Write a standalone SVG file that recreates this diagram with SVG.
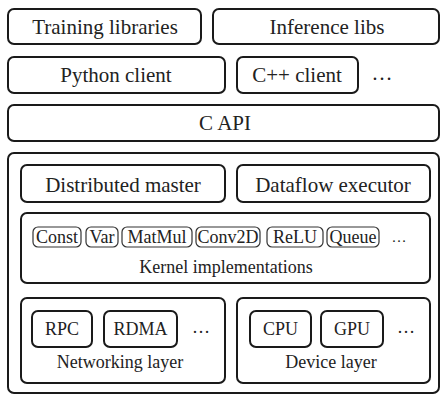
<svg xmlns="http://www.w3.org/2000/svg" width="441" height="395" viewBox="0 0 441 395">
<style>
.b{fill:#fff;stroke:#1a1a1a;stroke-width:2}
.k{fill:#fff;stroke:#333;stroke-width:1.2}
.t{fill:#222;text-anchor:middle}
.l{font-size:21px}
.m{font-size:18px}
</style>
<rect width="441" height="395" fill="#fff"/>
<g font-family="Liberation Serif">
<g id="training-libraries"><rect class="b" x="8" y="9" width="193" height="35" rx="6"/><text class="t l" x="105" y="34">Training libraries</text></g>
<g id="inference-libs"><rect class="b" x="213" y="9" width="226" height="35" rx="6"/><text class="t l" x="327" y="34">Inference libs</text></g>
<g id="python-client"><rect class="b" x="8" y="57" width="217" height="36" rx="6"/><text class="t l" x="116" y="82">Python client</text></g>
<g id="cpp-client"><rect class="b" x="237" y="57" width="121" height="36" rx="6"/><text class="t l" x="297" y="82">C++ client</text></g>
<g id="client-more"><text class="t l" x="382" y="80">…</text></g>
<g id="c-api"><rect class="b" x="8" y="105" width="431" height="36" rx="6"/><text class="t l" x="225" y="130">C API</text></g>
<g id="runtime"><rect class="b" x="8" y="153" width="431" height="240" rx="6"/></g>
<g id="distributed-master"><rect class="b" x="21" y="165" width="204" height="37" rx="6"/><text class="t l" x="123" y="192">Distributed master</text></g>
<g id="dataflow-executor"><rect class="b" x="237" y="165" width="193" height="37" rx="6"/><text class="t l" x="333" y="192">Dataflow executor</text></g>
<g id="kernel-implementations"><rect class="b" x="21" y="213" width="409" height="70" rx="6"/><text class="t m" x="226" y="273">Kernel implementations</text></g>
<g id="const"><rect class="k" x="33" y="227" width="48" height="20" rx="5"/><text class="t m" x="57" y="243">Const</text></g>
<g id="var"><rect class="k" x="86" y="227" width="32" height="20" rx="5"/><text class="t m" x="102" y="243">Var</text></g>
<g id="matmul"><rect class="k" x="122" y="227" width="70" height="20" rx="5"/><text class="t m" x="157" y="243">MatMul</text></g>
<g id="conv2d"><rect class="k" x="196" y="227" width="64" height="20" rx="5"/><text class="t m" x="228" y="243">Conv2D</text></g>
<g id="relu"><rect class="k" x="267" y="227" width="56" height="20" rx="5"/><text class="t m" x="295" y="243">ReLU</text></g>
<g id="queue"><rect class="k" x="327" y="227" width="52" height="20" rx="5"/><text class="t m" x="353" y="243">Queue</text></g>
<g id="kernel-more"><text class="t" font-size="15" x="399" y="242">…</text></g>
<g id="networking-layer"><rect class="b" x="21" y="298" width="204" height="85" rx="6"/><text class="t m" x="120" y="368">Networking layer</text></g>
<g id="rpc"><rect class="b" x="32" y="311" width="60" height="36" rx="6"/><text class="t m" x="62" y="335">RPC</text></g>
<g id="rdma"><rect class="b" x="104" y="311" width="73" height="36" rx="6"/><text class="t m" x="140.5" y="335">RDMA</text></g>
<g id="networking-more"><text class="t m" x="201" y="333">…</text></g>
<g id="device-layer"><rect class="b" x="237" y="298" width="193" height="85" rx="6"/><text class="t m" x="331" y="368">Device layer</text></g>
<g id="cpu"><rect class="b" x="250" y="311" width="61" height="36" rx="6"/><text class="t m" x="280.5" y="335">CPU</text></g>
<g id="gpu"><rect class="b" x="321" y="311" width="62" height="36" rx="6"/><text class="t m" x="352" y="335">GPU</text></g>
<g id="device-more"><text class="t m" x="406" y="333">…</text></g>
</g>
<g id="connectors"></g>
</svg>
